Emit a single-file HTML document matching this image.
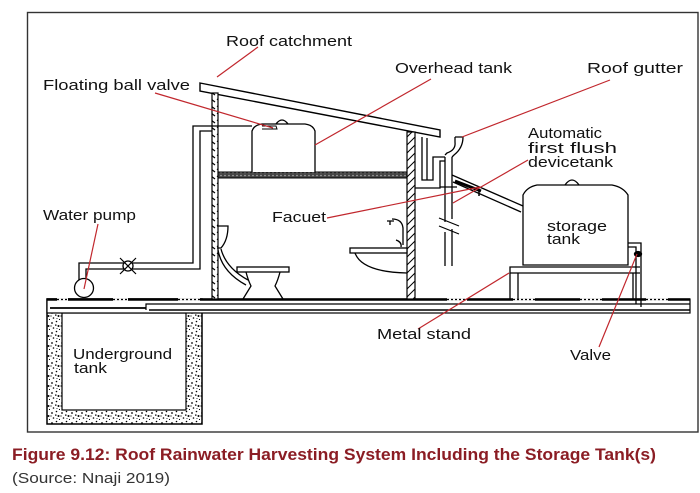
<!DOCTYPE html>
<html><head><meta charset="utf-8">
<style>html,body{margin:0;padding:0;background:#fff;}svg{display:block}</style>
</head><body>
<svg width="700" height="493" viewBox="0 0 700 493" xmlns="http://www.w3.org/2000/svg">
<defs>
 <pattern id="conc" width="10" height="10" patternUnits="userSpaceOnUse">
   <rect width="10" height="10" fill="#fff"/>
   <circle cx="2" cy="3" r="0.9" fill="#000"/>
   <circle cx="6.5" cy="1.5" r="0.8" fill="#000"/>
   <circle cx="8.5" cy="6" r="1" fill="#000"/>
   <circle cx="3.5" cy="8" r="0.8" fill="#000"/>
   <rect x="5" y="4.5" width="1.5" height="1.2" fill="#000"/>
   <circle cx="9.5" cy="9.5" r="0.6" fill="#000"/>
   <circle cx="1" cy="6" r="0.6" fill="#000"/>
   <circle cx="7" cy="8.5" r="0.5" fill="#000"/>
 </pattern>
 <pattern id="diag" width="8" height="8" patternUnits="userSpaceOnUse">
   <rect width="8" height="8" fill="#fff"/>
   <path d="M0,8 L8,0 M-2,2 L2,-2 M6,10 L10,6" stroke="#000" stroke-width="1"/>
 </pattern>
 <pattern id="lw" width="6" height="7" patternUnits="userSpaceOnUse">
   <rect width="6" height="7" fill="#fff"/>
   <path d="M1,1 L5,4" stroke="#000" stroke-width="1.2"/>
 </pattern>
 <pattern id="slabp" width="4" height="3" patternUnits="userSpaceOnUse">
   <rect width="4" height="3" fill="#444"/>
   <circle cx="1" cy="1.5" r="0.8" fill="#aaa"/>
 </pattern>
</defs>

<rect x="0" y="0" width="700" height="493" fill="#fff"/>
<rect x="27.5" y="12.5" width="670.5" height="419.5" fill="none" stroke="#333" stroke-width="1.4"/>

<g stroke="#000" fill="none" stroke-width="1.3">
  <rect x="47" y="299" width="155" height="125" fill="url(#conc)" stroke-width="1.5"/>
  <rect x="62" y="313" width="124" height="97" fill="#fff" stroke-width="1.2"/>

  <rect x="47" y="299" width="643" height="14" fill="#fff" stroke-width="1.2"/>
  <line x1="47" y1="299.5" x2="690" y2="299.5" stroke-width="2.6"/>
  <line x1="50" y1="308" x2="146" y2="308" stroke-width="1.8"/>
  <path d="M146,310 L146,304 L690,304" stroke-width="1.2"/>
  <line x1="149" y1="310" x2="690" y2="310" stroke-width="1.6"/>
  <g stroke="#fff" stroke-width="2.8">
    <line x1="57" y1="299.5" x2="68" y2="299.5"/>
    <line x1="113" y1="299.5" x2="128" y2="299.5"/>
    <line x1="178" y1="299.5" x2="200" y2="299.5"/>
    <line x1="447" y1="299.5" x2="467" y2="299.5"/>
    <line x1="513" y1="299.5" x2="535" y2="299.5"/>
    <line x1="580" y1="299.5" x2="602" y2="299.5"/>
    <line x1="646" y1="299.5" x2="668" y2="299.5"/>
  </g>
  <g stroke="#000" stroke-width="1.2" stroke-dasharray="2 2">
    <line x1="57" y1="299.5" x2="68" y2="299.5"/>
    <line x1="113" y1="299.5" x2="128" y2="299.5"/>
    <line x1="178" y1="299.5" x2="200" y2="299.5"/>
    <line x1="447" y1="299.5" x2="467" y2="299.5"/>
    <line x1="513" y1="299.5" x2="535" y2="299.5"/>
    <line x1="580" y1="299.5" x2="602" y2="299.5"/>
    <line x1="646" y1="299.5" x2="668" y2="299.5"/>
  </g>

  <polygon points="200,83 440,130 440,137 200,91" fill="#fff" stroke-width="1.4"/>

  <rect x="212" y="93" width="6" height="206" fill="url(#lw)" stroke-width="1.2"/>
  <rect x="407" y="132" width="8" height="167" fill="url(#diag)" stroke-width="1.2"/>

  <rect x="218" y="172" width="189" height="6" fill="url(#slabp)" stroke-width="1"/>

  <path d="M252,172 L252,131 Q254,125 262,124 L305,124 Q313,125 315,131 L315,172" fill="#fff"/>
  <path d="M276,124 Q282,116 288,124"/>
  <path d="M262,126 L276,126 L277,129 L262,129" stroke-width="1"/>

  <path d="M79,281 L79,263 L193,263 L193,126 L252,126"/>
  <path d="M86,280 L86,269 L200,269 L200,131 L212,131"/>
  <circle cx="84" cy="288" r="9.5" fill="#fff"/>
  <circle cx="128" cy="266" r="5" fill="#fff"/>
  <path d="M120,258 L136,274 M120,274 L136,258" stroke-width="1.2"/>

  <path d="M217,226 L228,226 Q228,240 221,248 L217,248"/>
  <path d="M218,250 Q222,272 246,285"/>
  <path d="M221,249 Q226,268 248,280"/>
  <rect x="237" y="267" width="52" height="5" fill="#fff"/>
  <path d="M246,272 Q248,280 251,286 L243,299"/>
  <path d="M280,272 Q278,280 275,286 L283,299"/>

  <rect x="350" y="248" width="57" height="5" fill="#fff"/>
  <path d="M355,253 Q362,272 407,273"/>
  <path d="M387,221 L394,221 M390,221 L390,225"/>
  <path d="M392,219 Q402,219 403,228 L403,245"/>
  <path d="M396,240 Q402,242 401,247"/>

  <path d="M422,137 L422,180 L433,180 L433,157 L445,157"/>
  <path d="M427,138 L427,180"/>
  <path d="M415,188 L440,188 L440,161 L445,161"/>
  <path d="M455,137 L463,137 Q463,148 454,155 L452,157"/>
  <path d="M455,137 L455,142 Q456,150 447,153 L445,155"/>
  <path d="M445,157 L445,222 M452,157 L452,219"/>
  <path d="M445,232 L445,266 M452,229 L452,266"/>
  <path d="M439,218 L459,226 M439,226 L459,234" stroke-width="1.2"/>
  <path d="M452,175 L523,206"/>
  <path d="M453,182 L521,212"/>
  <line x1="440" y1="187" x2="457" y2="187"/>
  <path d="M455,181 L481,191" stroke-width="3"/>
  <path d="M479,191 L479,196" stroke-width="1.5"/>

  <path d="M510,299 L510,267 L640,267"/>
  <line x1="510" y1="273" x2="640" y2="273"/>
  <line x1="518" y1="273" x2="518" y2="299"/>
  <line x1="633" y1="273" x2="633" y2="299"/>

  <path d="M523,265 L523,195 Q527,187 537,185 L612,185 Q623,187 628,195 L628,265 Z" fill="#fff"/>
  <path d="M565,185 Q572,175 579,185"/>

  <path d="M628,243 L641,243 L641,307"/>
  <path d="M628,247 L636,247 L636,304"/>
  <ellipse cx="638" cy="254" rx="3.5" ry="2.5" fill="#000"/>
</g>

<g stroke="#c1272d" stroke-width="1.2" fill="none">
  <line x1="258" y1="47" x2="217" y2="77"/>
  <line x1="155" y1="93" x2="273" y2="128"/>
  <line x1="431" y1="79" x2="315" y2="145"/>
  <line x1="610" y1="80" x2="462" y2="137"/>
  <line x1="528" y1="160" x2="453" y2="203"/>
  <line x1="327" y1="218" x2="480" y2="187"/>
  <line x1="98" y1="224" x2="84" y2="289"/>
  <line x1="418" y1="329" x2="509" y2="273"/>
  <line x1="599" y1="347" x2="637" y2="254"/>
</g>

<g font-family="'Liberation Sans', sans-serif" font-size="15" fill="#111">
  <text x="226" y="46" textLength="126" lengthAdjust="spacingAndGlyphs">Roof catchment</text>
  <text x="43" y="90" textLength="147" lengthAdjust="spacingAndGlyphs">Floating ball valve</text>
  <text x="395" y="73" textLength="117" lengthAdjust="spacingAndGlyphs">Overhead tank</text>
  <text x="587" y="73" textLength="96" lengthAdjust="spacingAndGlyphs">Roof gutter</text>
  <text x="528" y="138" textLength="74" lengthAdjust="spacingAndGlyphs">Automatic</text>
  <text x="528" y="153" textLength="89" lengthAdjust="spacingAndGlyphs">first flush</text>
  <text x="528" y="167" textLength="85" lengthAdjust="spacingAndGlyphs">devicetank</text>
  <text x="43" y="220" textLength="93" lengthAdjust="spacingAndGlyphs">Water pump</text>
  <text x="272" y="222" textLength="54" lengthAdjust="spacingAndGlyphs">Facuet</text>
  <text x="547" y="231" textLength="60" lengthAdjust="spacingAndGlyphs">storage</text>
  <text x="547" y="244" textLength="33" lengthAdjust="spacingAndGlyphs">tank</text>
  <text x="73" y="359" textLength="99" lengthAdjust="spacingAndGlyphs">Underground</text>
  <text x="74" y="373" textLength="33" lengthAdjust="spacingAndGlyphs">tank</text>
  <text x="377" y="339" textLength="94" lengthAdjust="spacingAndGlyphs">Metal stand</text>
  <text x="570" y="360" textLength="41" lengthAdjust="spacingAndGlyphs">Valve</text>
</g>

<text x="12" y="460" font-family="'Liberation Sans', sans-serif" font-weight="bold" font-size="17" fill="#8b1d24" textLength="644" lengthAdjust="spacingAndGlyphs">Figure 9.12: Roof Rainwater Harvesting System Including the Storage Tank(s)</text>
<text x="12" y="483" font-family="'Liberation Sans', sans-serif" font-size="15" fill="#333" textLength="158" lengthAdjust="spacingAndGlyphs">(Source: Nnaji 2019)</text>
</svg>
</body></html>
